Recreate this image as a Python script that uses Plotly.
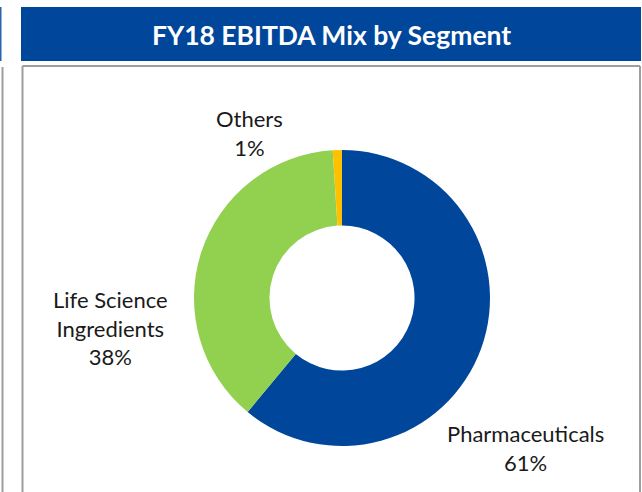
import plotly.graph_objects as go

W, H = 642, 492

segments = ["Pharmaceuticals", "Life Science Ingredients", "Others"]
shares = [61, 38, 1]
colors = ["#00479B", "#92D050", "#FFC000"]
label_text = ["Pharmaceuticals<br>61%", "Life Science<br>Ingredients<br>38%", "Others<br>1%"]
label_pos = [(525, 448), (110, 328), (249, 133)]  # px centres


def px(x, y):
    return x / W, 1 - y / H


fig = go.Figure()
fig.add_trace(go.Pie(
    labels=segments, values=shares,
    marker=dict(colors=colors, line=dict(width=0)),
    hole=0.49, sort=False, direction="clockwise", rotation=0,
    textinfo="none", showlegend=False, hoverinfo="label+percent",
    domain=dict(x=[194 / W, 490 / W], y=[46 / H, 342 / H]),
))

for t, (x, y) in zip(label_text, label_pos):
    ax, ay = px(x, y)
    fig.add_annotation(x=ax, y=ay, xref="paper", yref="paper", text=t,
                       xanchor="center", yanchor="middle",
                       showarrow=False, align="center",
                       font=dict(family="Lato", size=22, color="#1a1a1a"))

# title bar
x0, y0 = px(21, 61)
x1, y1 = px(641, 7)
fig.add_shape(type="rect", xref="paper", yref="paper", x0=x0, y0=y0, x1=x1, y1=y1,
              fillcolor="#00469A", line=dict(color="#00469A", width=0), layer="below")
tx, ty = px(331.5, 35)
fig.add_annotation(x=tx, y=ty, xref="paper", yref="paper", text="<b>FY18 EBITDA Mix by Segment</b>",
                   xanchor="center", yanchor="middle",
                   showarrow=False, font=dict(family="Lato", size=26.5, color="white"))

# left neighbour panel sliver
a0, b0 = px(-5, 61)
a1, b1 = px(1.5, 7)
fig.add_shape(type="rect", xref="paper", yref="paper", x0=a0, y0=b0, x1=a1, y1=b1,
              fillcolor="#2A62AE", line=dict(width=0))
fig.add_shape(type="line", xref="paper", yref="paper", x0=2.5 / W, x1=2.5 / W, y0=0, y1=1 - 67 / H,
              line=dict(color="#9E9E9E", width=2))

# panel border
gray = dict(color="#9E9E9E", width=2)
fig.add_shape(type="line", xref="paper", yref="paper", x0=22.5 / W, x1=22.5 / W, y0=0, y1=1 - 66 / H, line=gray)
fig.add_shape(type="line", xref="paper", yref="paper", x0=22.5 / W, x1=640 / W, y0=1 - 66 / H, y1=1 - 66 / H, line=gray)
fig.add_shape(type="line", xref="paper", yref="paper", x0=640 / W, x1=640 / W, y0=0, y1=1 - 66 / H, line=gray)

fig.update_layout(width=W, height=H, margin=dict(l=0, r=0, t=0, b=0),
                  paper_bgcolor="white", plot_bgcolor="white")
fig.write_html("out.html", config={"displayModeBar": False},
               post_script="document.body.style.margin='0';")
